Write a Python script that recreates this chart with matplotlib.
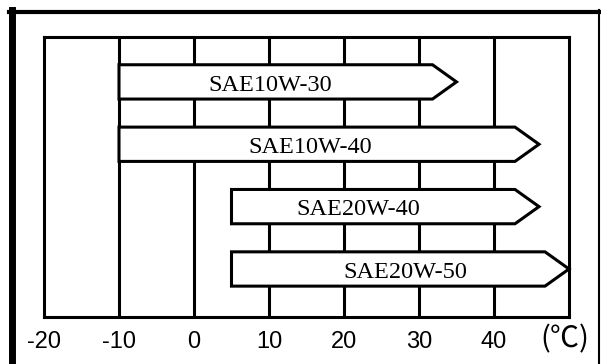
import matplotlib
matplotlib.use("Agg")
import matplotlib.pyplot as plt
from matplotlib.patches import Polygon
from matplotlib.lines import Line2D

# Data
grades = ["SAE10W-30", "SAE10W-40", "SAE20W-40", "SAE20W-50"]
temp_min = [-10, -10, 5, 5]
temp_max = [35, 46, 46, 50]
label_temps = [10.2, 15.5, 21.9, 28.2]
tick_temps = [-20, -10, 0, 10, 20, 30, 40]
tick_labels = ["-20", "-10", "0", "10", "20", "30", "40"]
unit_label = "(℃)"

W, H = 601, 364
fig = plt.figure(figsize=(W / 100, H / 100), dpi=100)
fig.patch.set_facecolor("white")

ax = fig.add_axes([44 / W, 1 - 317 / H, (569 - 44) / W, (317 - 37) / H])
ax.set_xlim(-20, 50)
ax.set_ylim(3.77, -0.72)

# vertical grid lines
for t in tick_temps[1:]:
    ax.axvline(t, color="black", lw=2.2, zorder=1)

tip_len = 3.2
bar_h = 0.55
for i, (name, lo, hi, lx) in enumerate(zip(grades, temp_min, temp_max, label_temps)):
    body_end = hi - tip_len
    verts = [(lo, i - bar_h / 2), (body_end, i - bar_h / 2), (hi, i),
             (body_end, i + bar_h / 2), (lo, i + bar_h / 2)]
    poly = Polygon(verts, closed=True, facecolor="white", edgecolor="black",
                   lw=2.2, joinstyle="miter", zorder=3, clip_on=False)
    ax.add_patch(poly)
    ax.text(lx, i + 0.05, name, ha="center", va="center",
            fontsize=17.5, family="Liberation Serif", zorder=4)

ax.set_yticks([])
ax.set_xticks(tick_temps)
ax.set_xticklabels(tick_labels, fontsize=17, family="Liberation Sans")
ax.tick_params(axis="x", length=0, pad=10)
for s in ax.spines.values():
    s.set_linewidth(2.2)
    s.set_zorder(5)

ax.text(49.4, 3.77 + 0.36, unit_label, ha="center", va="center",
        fontsize=21, family=["Noto Sans CJK SC", "DejaVu Sans"], clip_on=False)

# outer frame
def fx(p):
    return p / W

def fy(p):
    return 1 - p / H

fig.add_artist(Line2D([fx(11.5), fx(11.5)], [fy(10), fy(364)], color="black", lw=5))
fig.add_artist(Line2D([fx(9), fx(600)], [fy(12), fy(12)], color="black", lw=3))
fig.add_artist(Line2D([fx(599), fx(599)], [fy(10), fy(364)], color="black", lw=1.5))

fig.savefig("out.png", dpi=100, facecolor="white")
